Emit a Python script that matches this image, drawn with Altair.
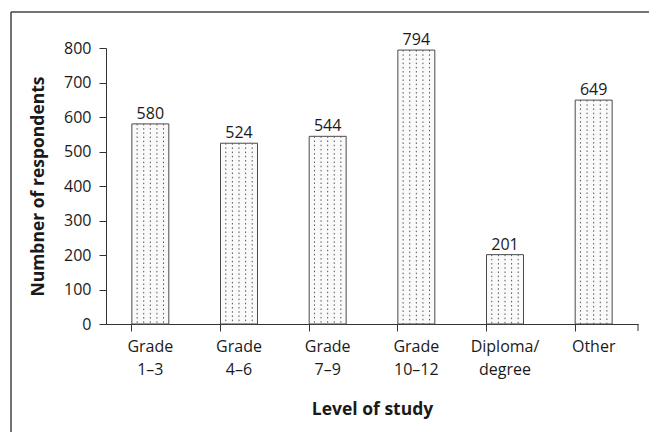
import altair as alt
import pandas as pd

# Respondents by level of study
levels = ["Grade 1–3", "Grade 4–6", "Grade 7–9", "Grade 10–12", "Diploma/ degree", "Other"]
counts = [580, 524, 544, 794, 201, 649]
y_ticks = [0, 100, 200, 300, 400, 500, 600, 700, 800]
# dotted-fill columns drawn inside each bar
dot_cols = [0, 1, 2, 3, 4]

FONT = "Open Sans"
INK = "#1a1a1a"
W, H = 532, 276

df = pd.DataFrame({"level": levels, "count": counts})
dots = pd.DataFrame(
    [{"level": l, "count": c, "col": k} for l, c in zip(levels, counts) for k in dot_cols]
)
one = pd.DataFrame({"a": [0]})

x_scale = alt.Scale(domain=levels, paddingInner=0.583, paddingOuter=0.2915)
y_scale = alt.Scale(domain=[0, 800])

x_axis = alt.Axis(
    title="Level of study",
    labelAngle=0,
    labelExpr="split(datum.label, ' ')",
    labelLineHeight=23,
    labelPadding=7,
    bandPosition=0,
    tickSize=7,
    titlePadding=23,
)
y_axis = alt.Axis(
    title="Numbner of respondents",
    values=y_ticks,
    labelOverlap=False,
    tickSize=7,
    labelPadding=8,
    grid=False,
    titlePadding=16,
)

x_enc = alt.X("level:N", sort=levels, scale=x_scale, axis=x_axis)
y_enc = alt.Y("count:Q", scale=y_scale, axis=y_axis)

bars = alt.Chart(df).mark_bar(fill="#fafafa", stroke="#4a4a4a", strokeWidth=1).encode(
    x=x_enc, y=y_enc
)

dotted = alt.Chart(dots).mark_rule(
    color="#555555", strokeWidth=1, strokeDash=[1.5, 2.7]
).encode(
    x=x_enc,
    xOffset=alt.XOffset("col:O", scale=alt.Scale(paddingOuter=0.3)),
    y=y_enc,
    y2=alt.datum(0),
)

labels = alt.Chart(df).mark_text(
    baseline="alphabetic", dy=-5, font=FONT, fontSize=16, color=INK
).encode(
    x=x_enc,
    y=y_enc,
    text=alt.Text("count:Q"),
)

# closing tick at the right end of the category axis
end_tick = alt.Chart(one).mark_rule(color="#333333", strokeWidth=1).encode(
    x=alt.value(W), y=alt.value(H), y2=alt.value(H + 7)
)

# outer frame (top and left edges)
frame_top = alt.Chart(one).mark_rule(color="#444444", strokeWidth=1.5).encode(
    x=alt.value(-95), x2=alt.value(543), y=alt.value(-36)
)
frame_left = alt.Chart(one).mark_rule(color="#444444", strokeWidth=1.5).encode(
    x=alt.value(-95), y=alt.value(-36), y2=alt.value(384)
)

chart = (
    alt.layer(bars, dotted, labels, end_tick, frame_top, frame_left)
    .properties(
        width=W,
        height=H,
        autosize=alt.AutoSizeParams(type="none"),
        padding={"left": 106, "top": 48, "right": 11, "bottom": 108},
        background="white",
    )
    .configure_view(stroke=None)
    .configure_axis(
        labelFont=FONT,
        titleFont=FONT,
        labelFontSize=16,
        titleFontSize=17.5,
        titleFontWeight="bold",
        labelColor=INK,
        titleColor=INK,
        domainColor="#333333",
        tickColor="#333333",
        domainWidth=1,
        tickWidth=1,
    )
    .configure_axisY(labelOverlap=False)
)

chart.save("out.html", embed_options={"renderer": "svg", "actions": False})
